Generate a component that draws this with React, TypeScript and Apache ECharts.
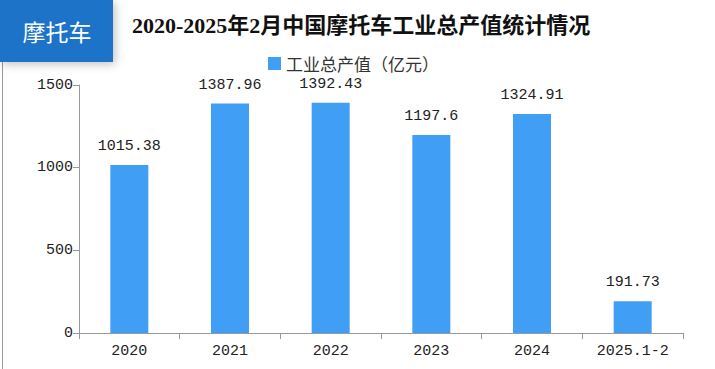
import React, { useEffect, useRef } from "react";
import * as echarts from "echarts";

const categories = ["2020", "2021", "2022", "2023", "2024", "2025.1-2"];
const values = [1015.38, 1387.96, 1392.43, 1197.6, 1324.91, 191.73];
const seriesName = "工业总产值（亿元）";
const titleText = "2020-2025年2月中国摩托车工业总产值统计情况";
const badgeText = "摩托车";

export default function App() {
  const ref = useRef<HTMLDivElement>(null);
  useEffect(() => {
    document.body.style.margin = "0";
    const chart = echarts.init(ref.current!, null, { renderer: "svg" });
    chart.setOption({
      animation: false,
      backgroundColor: "#ffffff",
      title: {
        text: titleText,
        left: 127,
        top: 9,
        textStyle: {
          fontFamily: "'Liberation Serif', 'Noto Sans CJK SC', serif",
          fontWeight: "bold",
          fontSize: 22,
          color: "#111",
        },
      },
      legend: {
        top: 50,
        left: 263,
        itemWidth: 13,
        itemHeight: 13,
        itemGap: 6,
        icon: "rect",
        textStyle: {
          fontFamily: "'Noto Sans CJK SC', sans-serif",
          fontSize: 17,
          color: "#333",
        },
        data: [seriesName],
      },
      grid: { left: 79, right: 32, top: 85, bottom: 36, containLabel: false },
      xAxis: {
        type: "category",
        data: categories,
        axisLine: { lineStyle: { color: "#999" } },
        axisTick: { show: true, length: 6, lineStyle: { color: "#999" } },
        axisLabel: {
          fontFamily: "'Liberation Mono', monospace",
          fontSize: 15,
          color: "#222",
          margin: 11,
        },
      },
      yAxis: {
        type: "value",
        min: 0,
        max: 1500,
        interval: 500,
        splitLine: { show: false },
        axisLine: { show: true, lineStyle: { color: "#999" } },
        axisTick: { show: true, length: 6, lineStyle: { color: "#999" } },
        axisLabel: {
          fontFamily: "'Liberation Mono', monospace",
          fontSize: 15,
          color: "#222",
          margin: 6,
          formatter: (v: number) => String(v),
        },
      },
      series: [
        {
          name: seriesName,
          type: "bar",
          data: values,
          barWidth: 38,
          itemStyle: { color: "#409ef5" },
          label: {
            show: true,
            position: "top",
            distance: 11,
            fontFamily: "'Liberation Mono', monospace",
            fontSize: 15,
            color: "#222",
          },
        },
      ],
      graphic: [
        {
          type: "line",
          shape: { x1: 2.5, y1: 60, x2: 2.5, y2: 369 },
          style: { stroke: "#999", lineWidth: 1 },
        },
        {
          type: "rect",
          shape: { x: 0, y: 0, width: 113, height: 62 },
          style: {
            fill: "#1e73c8",
            shadowBlur: 10,
            shadowColor: "rgba(0,0,0,0.25)",
            shadowOffsetX: 2,
            shadowOffsetY: 2,
          },
        },
        {
          type: "text",
          x: 57,
          y: 31,
          style: {
            text: badgeText,
            fill: "#ffffff",
            fontSize: 23,
            fontFamily: "'Noto Sans CJK SC', sans-serif",
            align: "center",
            verticalAlign: "middle",
          },
        },
      ],
    });
    return () => chart.dispose();
  }, []);
  return <div ref={ref} style={{ width: 715, height: 369 }} />;
}
